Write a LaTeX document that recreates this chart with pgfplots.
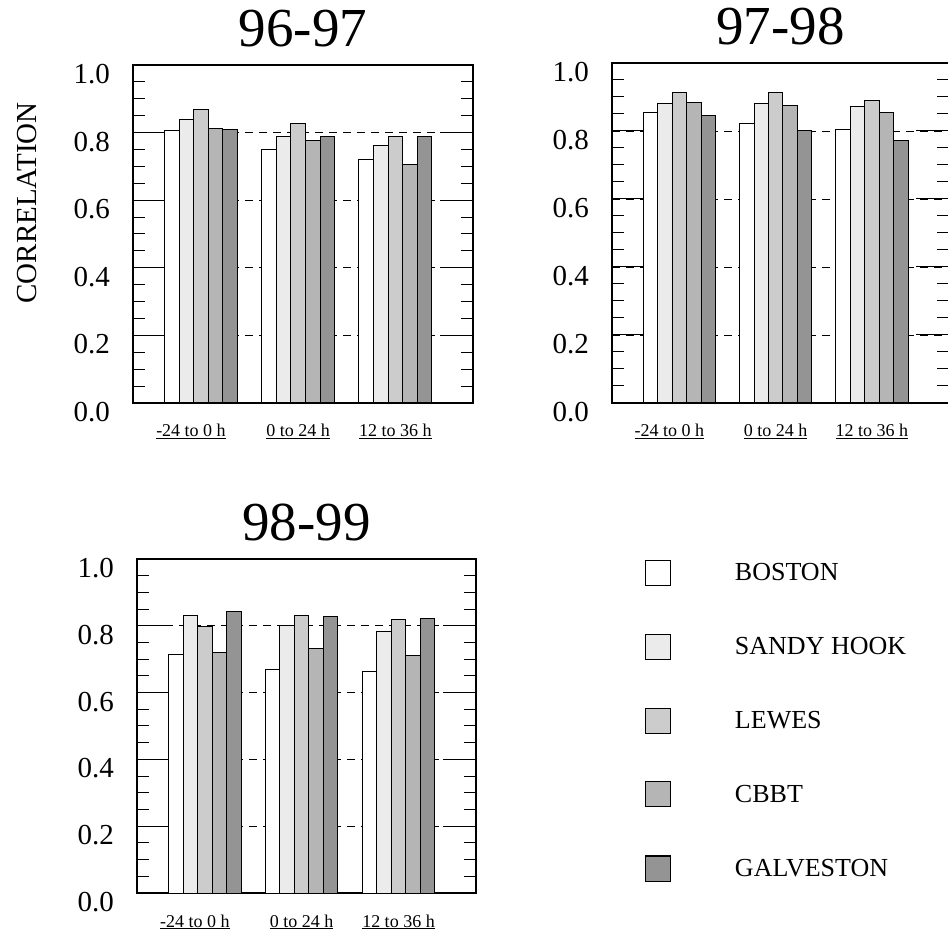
\documentclass[border=0pt]{standalone}
\usepackage{fontspec}
\setmainfont{Liberation Serif}
\usepackage{pgfplots}
\usepackage{pgfplotstable}
\pgfplotsset{compat=1.18}

\definecolor{cB}{gray}{1.0}
\definecolor{cS}{gray}{0.92}
\definecolor{cL}{gray}{0.80}
\definecolor{cC}{gray}{0.71}
\definecolor{cG}{gray}{0.58}

\pgfplotstableread{
x B S L C G
0 0.805 0.840 0.868 0.813 0.809
1 0.751 0.789 0.828 0.776 0.787
2 0.719 0.763 0.789 0.707 0.789
}\tabA
\pgfplotstableread{
x B S L C G
0 0.854 0.880 0.912 0.884 0.845
1 0.822 0.880 0.913 0.875 0.801
2 0.803 0.871 0.890 0.854 0.771
}\tabB
\pgfplotstableread{
x B S L C G
0 0.715 0.832 0.798 0.719 0.842
1 0.669 0.800 0.832 0.733 0.827
2 0.664 0.782 0.819 0.711 0.822
}\tabC

\pgfplotsset{
  panel/.style={
    scale only axis,
    ybar=0pt, bar width=0.15,
    xmin=-0.7, xmax=2.8, ymin=0, ymax=1,
    xtick={0,1,2},
    xticklabels={{\underline{-24 to 0 h}\hspace*{20pt}},{\underline{0 to 24 h}},{\underline{12 to 36 h}}},
    x tick style={draw=none},
    xticklabel style={font=\fontsize{18}{20}\selectfont, anchor=base, yshift=-34pt, inner sep=0pt},
    ytick={0,0.2,0.4,0.6,0.8,1.0},
    minor y tick num=3,
    ytick pos=both, yticklabel pos=left,
    tick align=inside,
    major tick length=33pt, minor tick length=12pt,
    y tick style={black, line width=1pt},
    ymajorgrids, grid style={black, line width=0.9pt, dash pattern=on 8pt off 6pt},
    axis line style={line width=1.2pt},
    /pgf/number format/assume math mode=true,
    yticklabel style={font=\fontsize{29}{32}\selectfont, anchor=east, inner sep=0pt, xshift=-23pt, yshift=-9pt,
      /pgf/number format/fixed, /pgf/number format/fixed zerofill, /pgf/number format/precision=1},
    title style={font=\fontsize{55}{60}\selectfont, at={(0.5,1)}, anchor=base, yshift=12pt, inner sep=0pt},
    legend image code/.code={\draw[#1] (0pt,-12.5pt) rectangle (25pt,12.5pt);},
  },
  bB/.style={draw=black, line width=1pt, fill=cB},
  bS/.style={draw=black, line width=1pt, fill=cS},
  bL/.style={draw=black, line width=1pt, fill=cL},
  bC/.style={draw=black, line width=1pt, fill=cC},
  bG/.style={draw=black, line width=1pt, fill=cG},
}

\begin{document}
\begin{tikzpicture}
\path[use as bounding box] (0,0) rectangle (948pt,940pt);

\begin{axis}[panel, at={(133pt,537pt)}, anchor=south west, width=340pt, height=338pt,
  title={96-97},
  ylabel={CORRELATION},
  ylabel style={font=\fontsize{29}{32}\selectfont, at={(-0.312,0.592)}, anchor=center, rotate=0}]
\addplot[bB] table[x=x,y=B]{\tabA};
\addplot[bS] table[x=x,y=S]{\tabA};
\addplot[bL] table[x=x,y=L]{\tabA};
\addplot[bC] table[x=x,y=C]{\tabA};
\addplot[bG] table[x=x,y=G]{\tabA};
\end{axis}

\begin{axis}[panel, at={(612pt,537pt)}, anchor=south west, width=337pt, height=340pt,
  title={97-98}]
\addplot[bB] table[x=x,y=B]{\tabB};
\addplot[bS] table[x=x,y=S]{\tabB};
\addplot[bL] table[x=x,y=L]{\tabB};
\addplot[bC] table[x=x,y=C]{\tabB};
\addplot[bG] table[x=x,y=G]{\tabB};
\end{axis}

\begin{axis}[panel, at={(137pt,47pt)}, anchor=south west, width=339pt, height=334pt,
  title={98-99},
  legend style={draw=none, fill=none, inner sep=0pt, outer sep=0pt,
    at={(1.4985,0.9985)}, anchor=north west,
    font=\fontsize{26}{28}\selectfont,
    row sep=48pt,
    nodes={inner sep=0pt, anchor=west},
    /tikz/every odd column/.append style={column sep=64pt}},
  legend cell align=left]
\addplot[bB] table[x=x,y=B]{\tabC};
\addplot[bS] table[x=x,y=S]{\tabC};
\addplot[bL] table[x=x,y=L]{\tabC};
\addplot[bC] table[x=x,y=C]{\tabC};
\addplot[bG] table[x=x,y=G]{\tabC};
\legend{BOSTON, SANDY HOOK, LEWES, CBBT, GALVESTON}
\end{axis}
\end{tikzpicture}
\end{document}
